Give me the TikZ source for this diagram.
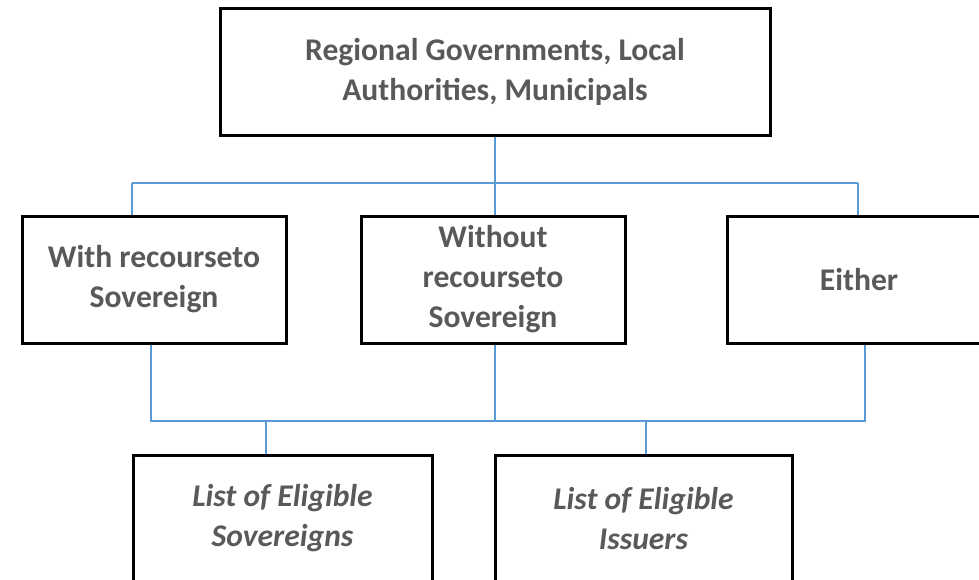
\documentclass[tikz,border=0pt]{standalone}
\usepackage{fontspec}
\setmainfont{Carlito}
\definecolor{txtgray}{HTML}{595959}
\definecolor{linkblue}{HTML}{5B9BD5}
\tikzset{
  box/.style={draw=black, line width=1.5pt, rectangle, minimum height=63.5pt,
    align=center, text=txtgray, font=\fontsize{15.8}{20}\selectfont\bfseries},
  link/.style={draw=linkblue, line width=0.75pt}
}
\begin{document}
\begin{tikzpicture}[x=0.5pt,y=-0.5pt]
  \useasboundingbox (0,0) rectangle (979,579);
  \clip (0,0) rectangle (979,579);
  % boxes
  \node[box, minimum width=275pt] (top) at (495,71.5) {Regional Governments, Local\\Authorities, Municipals};
  \node[box, minimum width=132pt] (withrec) at (154,279.5) {With recourseto\\Sovereign};
  \node[box, minimum width=132pt] (withoutrec) at (493,279.5) {Without\\recourseto\\Sovereign};
  \node[box, minimum width=132pt] (either) at (859,279.5) {Either};
  \node[box, minimum width=149.5pt, font=\fontsize{15.8}{20}\selectfont\bfseries\itshape] (sovlist) at (282.5,518.5) {List of Eligible\\Sovereigns};
  \node[box, minimum width=148.5pt, font=\fontsize{15.8}{20}\selectfont\bfseries\itshape] (isslist) at (643.5,518.5) {List of Eligible\\Issuers};
  % upper connectors
  \coordinate (topjoin) at (495,183);
  \coordinate (leftjoin) at (132,183);
  \coordinate (rightjoin) at (858,183);
  \draw[link] (top.south) -- (topjoin);
  \draw[link] (leftjoin) -- (rightjoin);
  \draw[link] (leftjoin) -- (leftjoin |- withrec.north);
  \draw[link] (topjoin) -- (topjoin |- withoutrec.north);
  \draw[link] (rightjoin) -- (rightjoin |- either.north);
  % lower connectors
  \coordinate (wdown) at (151,421);
  \coordinate (edown) at (865,421);
  \coordinate (sovjoin) at (266,421);
  \coordinate (issjoin) at (646,421);
  \draw[link] (wdown |- withrec.south) -- (wdown) -- (edown) -- (edown |- either.south);
  \draw[link] (withoutrec.south -| topjoin) -- (topjoin |- wdown);
  \draw[link] (sovjoin) -- (sovjoin |- sovlist.north);
  \draw[link] (issjoin) -- (issjoin |- isslist.north);
\end{tikzpicture}
\end{document}
